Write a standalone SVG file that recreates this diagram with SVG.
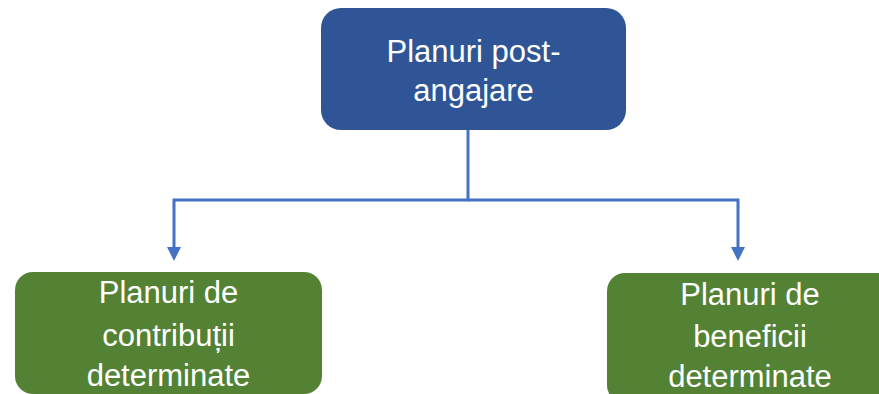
<svg xmlns="http://www.w3.org/2000/svg" width="879" height="394" viewBox="0 0 879 394">
<style>
.t{font-family:"Liberation Sans",Arial,sans-serif;font-size:31px;fill:#ffffff;text-anchor:middle}
.c{fill:none;stroke:#4472C4;stroke-width:3}
</style>
<defs>
<marker id="ah" markerWidth="10" markerHeight="10" refX="5" refY="9" orient="auto" markerUnits="userSpaceOnUse" viewBox="0 0 10 10">
<path d="M0,0 L10,0 L5,10 Z" fill="#4472C4" transform="rotate(-90 5 5)"/>
</marker>
</defs>
<rect width="879" height="394" fill="#ffffff"/>
<g id="connectors">
<path class="c" d="M468,130 V200 H174 V250"/>
<path class="c" d="M468,200 H738 V250"/>
<path d="M167,247 L181,247 L174,261 Z" fill="#4472C4"/>
<path d="M731,247 L745,247 L738,261 Z" fill="#4472C4"/>
</g>
<g id="node-top">
<rect x="321" y="8" width="305" height="122" rx="20" fill="#2F5597"/>
<text class="t" x="473.5" y="62">Planuri post-</text>
<text class="t" x="473.5" y="101">angajare</text>
</g>
<g id="node-left">
<rect x="15" y="272" width="307" height="122" rx="18" fill="#548235"/>
<text class="t" x="168.5" y="303">Planuri de</text>
<text class="t" x="168.5" y="346">contribuții</text>
<text class="t" x="168.5" y="386">determinate</text>
</g>
<g id="node-right">
<rect x="607" y="273" width="290" height="130" rx="18" fill="#548235"/>
<text class="t" x="750" y="305">Planuri de</text>
<text class="t" x="750" y="347">beneficii</text>
<text class="t" x="750" y="387">determinate</text>
</g>
</svg>
